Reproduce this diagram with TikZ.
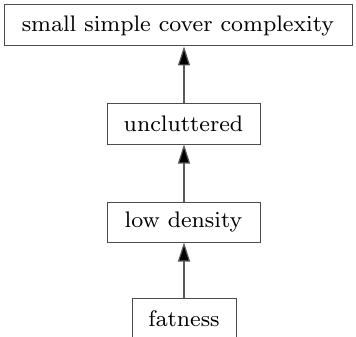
\documentclass[tikz,border=0pt]{standalone}
\usetikzlibrary{arrows.meta}
\font\diagfont=cmr8 at 22.5pt
\begin{document}
\begin{tikzpicture}[x=1pt,y=-1pt,
  box/.style={draw=black!70,line width=1pt,inner sep=0pt,font=\diagfont,text=black},
  conn/.style={draw=black!65,line width=1.2pt,-{Triangle[length=19pt,width=12pt,fill=black]}}]
\useasboundingbox (0,0) rectangle (356,337);
\node[box,minimum width=348pt,minimum height=41pt] (top) at (178,25.5) {small simple cover complexity};
\node[box,minimum width=153pt,minimum height=41pt] (unc) at (183.5,123.5) {uncluttered};
\node[box,minimum width=153pt,minimum height=40pt] (low) at (183.5,222) {low density};
\node[box,minimum width=104pt,minimum height=41pt] (fat) at (184,318.5) {fatness};
\draw[conn] (fat.north) -- (fat.north |- low.south);
\draw[conn] (fat.north |- low.north) -- (fat.north |- unc.south);
\draw[conn] (fat.north |- unc.north) -- (fat.north |- top.south);
\end{tikzpicture}
\end{document}
